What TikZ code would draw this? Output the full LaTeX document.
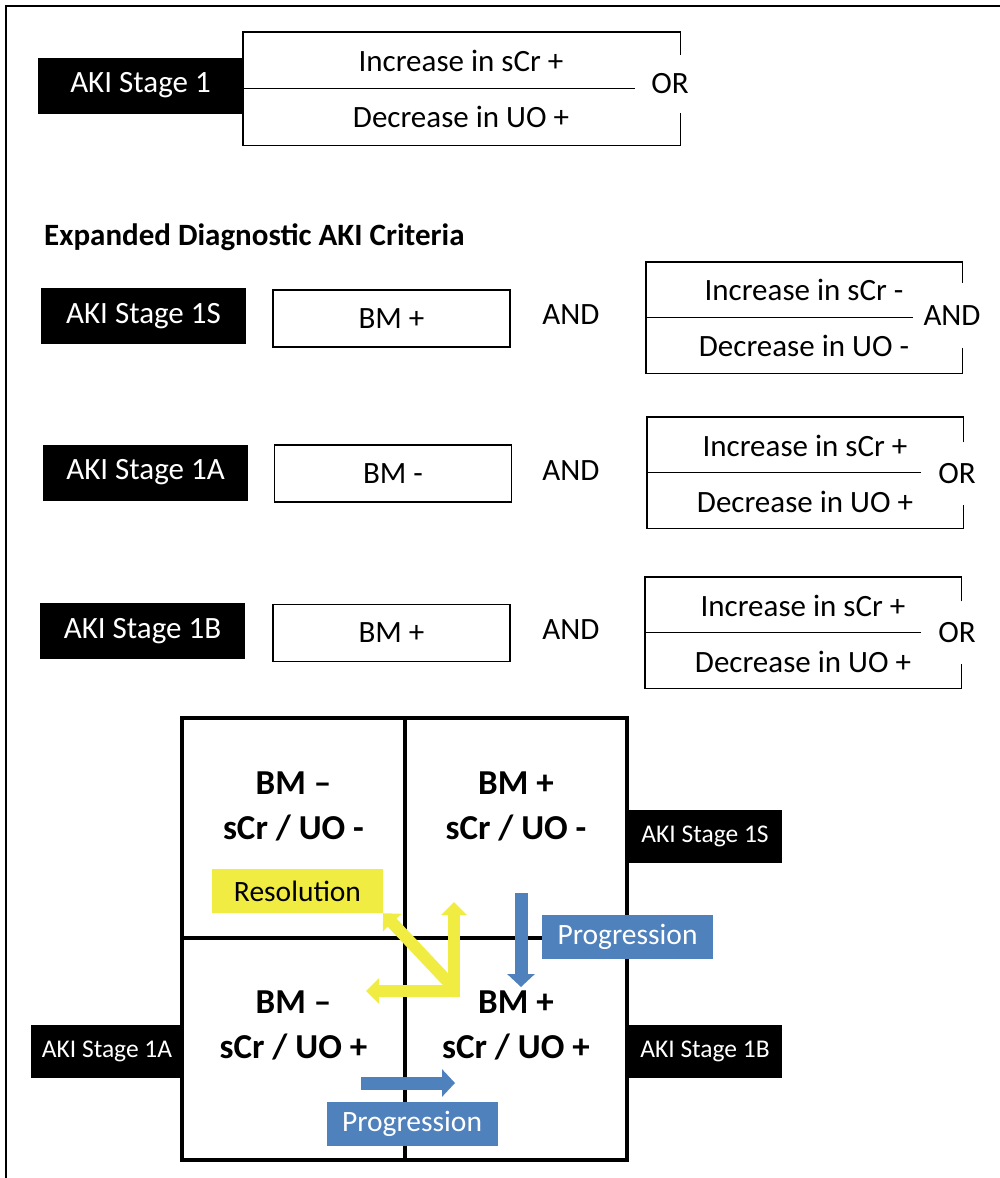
\documentclass[tikz,border=0pt]{standalone}
\usepackage{fontspec}
\setmainfont{Carlito}
\usetikzlibrary{arrows.meta}
\definecolor{progblue}{RGB}{79,129,189}
\definecolor{resyellow}{RGB}{241,236,66}

\begin{document}
\begin{tikzpicture}[x=1pt, y=-1pt, every node/.style={inner sep=0pt, font=\fontsize{31}{37}\selectfont}, stage/.style={fill=black, text=white, minimum width=205pt, minimum height=56pt}, smallstage/.style={stage, minimum width=153pt, minimum height=53pt, font=\fontsize{25.5}{30}\selectfont}, bmbox/.style={draw, line width=1.4pt, minimum width=237pt, minimum height=57pt}, crit/.style={minimum width=316pt, minimum height=111pt}, orgap/.style={minimum width=72pt, minimum height=62pt}, brk/.style={line width=1.4pt}, cell/.style={align=center, font=\bfseries\fontsize{35}{45}\selectfont}, gridline/.style={line width=4pt}, progbox/.style={fill=progblue, text=white, minimum width=171pt, minimum height=44pt, font=\fontsize{29.5}{35}\selectfont}, resbox/.style={progbox, fill=resyellow, text=black}, yarrow/.style={draw=resyellow, line width=12pt, line join=miter}, barrow/.style={draw=progblue, line width=13pt, -{Triangle[width=27pt,length=13pt]}}]

		\useasboundingbox (0,0) rectangle (1000,1178);
		\draw[line width=2pt] (6,1178) -- (6,6) -- (1000,6);

		\node[stage] (s1) at (140.5,85.5) {AKI Stage 1};
		\node[crit, minimum width=437pt, minimum height=113pt] (c1) at (461.5,88.5) {};
		\node at (461,61) {Increase in sCr +};
		\node at (461,117) {Decrease in UO +};
		\node[orgap, minimum width=70pt, minimum height=58pt] (or1) at (670,84) {OR};
		\draw[brk] (or1.north -| c1.east) -- (c1.north east) -- (c1.north west) -- (c1.south west) -- (c1.south east) -- (or1.south -| c1.east);
		\draw[brk] (c1.west) -- (c1.west -| or1.west);

		\node[font=\bfseries\fontsize{31}{37}\selectfont, anchor=west] (title) at (44,237) {Expanded Diagnostic AKI Criteria};

		\node[stage] (s1s) at (143.5,316) {AKI Stage 1S};
		\node[bmbox] (bm1s) at (391.5,318.5) {BM +};
		\node (and1s) at (571,315) {AND};
		\node[crit] (c1s) at (804,317.5) {};
		\node at (804,290) {Increase in sCr -};
		\node at (804,346) {Decrease in UO -};
		\node[orgap, minimum width=78pt, minimum height=65pt] (or1s) at (952,315.5) {AND};
		\draw[brk] (or1s.north -| c1s.east) -- (c1s.north east) -- (c1s.north west) -- (c1s.south west) -- (c1s.south east) -- (or1s.south -| c1s.east);
		\draw[brk] (c1s.west) -- (c1s.west -| or1s.west);

		\node[stage] (s1a) at (145.5,472.5) {AKI Stage 1A};
		\node[bmbox] (bm1a) at (393,473.5) {BM -};
		\node (and1a) at (571,471) {AND};
		\node[crit] (c1a) at (805,472.5) {};
		\node at (805,446) {Increase in sCr +};
		\node at (805,502) {Decrease in UO +};
		\node[orgap] (or1a) at (957,473.5) {OR};
		\draw[brk] (or1a.north -| c1a.east) -- (c1a.north east) -- (c1a.north west) -- (c1a.south west) -- (c1a.south east) -- (or1a.south -| c1a.east);
		\draw[brk] (c1a.west) -- (c1a.west -| or1a.west);

		\node[stage] (s1b) at (142.5,631) {AKI Stage 1B};
		\node[bmbox] (bm1b) at (391.5,633) {BM +};
		\node (and1b) at (571,630) {AND};
		\node[crit] (c1b) at (803,632.5) {};
		\node at (803,606) {Increase in sCr +};
		\node at (803,662) {Decrease in UO +};
		\node[orgap] (or1b) at (957,632.5) {OR};
		\draw[brk] (or1b.north -| c1b.east) -- (c1b.north east) -- (c1b.north west) -- (c1b.south west) -- (c1b.south east) -- (or1b.south -| c1b.east);
		\draw[brk] (c1b.west) -- (c1b.west -| or1b.west);

		\draw[gridline] (182,718) rectangle (627,1160);
		\draw[gridline] (405,718) -- (405,1160);
		\draw[gridline] (182,938) -- (627,938);

		\node[cell] (tl) at (293.5,806) {BM –\\sCr / UO -};
		\node[cell] (tr) at (516,806) {BM +\\sCr / UO -};
		\node[cell] (bl) at (293.5,1025) {BM –\\sCr / UO +};
		\node[cell] (br) at (516,1025) {BM +\\sCr / UO +};

		\node[smallstage] (g1s) at (705,836) {AKI Stage 1S};
		\node[smallstage] (g1a) at (107,1051.5) {AKI Stage 1A};
		\node[smallstage] (g1b) at (705,1051.5) {AKI Stage 1B};

		\node[resbox] (res) at (297.5,891) {Resolution};

		\coordinate (ycorner) at (454,991);
		\coordinate (yup) at (454,902);
		\coordinate (yleft) at (366,991);
		\coordinate (ydiag) at (451,985);
		\draw[yarrow, {Triangle[width=25pt,length=13pt]}-{Triangle[width=25pt,length=13pt]}] (yup) -- (ycorner) -- (yleft);
		\draw[yarrow, -{Triangle[width=25pt,length=13pt]}] (ydiag) -- (res.south east);

		\coordinate (bdown) at (521,893);
		\coordinate (bdownend) at (521,987);
		\coordinate (bright) at (361,1083);
		\coordinate (brightend) at (455,1083);
		\draw[barrow] (bdown) -- (bdownend);
		\draw[barrow] (bright) -- (brightend);

		\node[progbox] (prog1) at (627.5,936.5) {Progression};
		\node[progbox] (prog2) at (412,1123.5) {Progression};

	\end{tikzpicture}
\end{document}
